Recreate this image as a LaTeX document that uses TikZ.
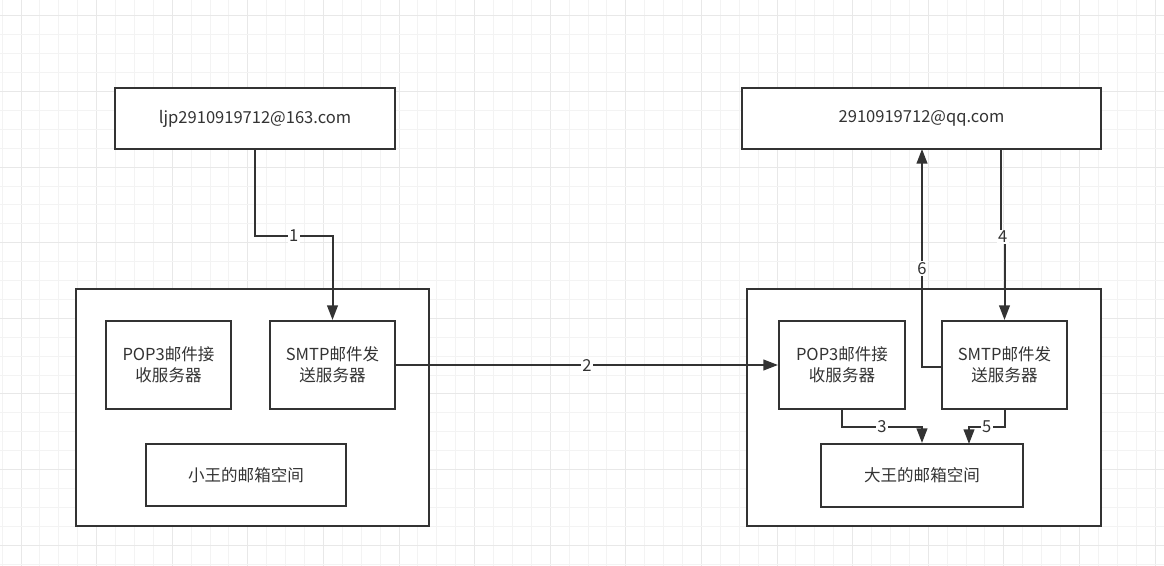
\documentclass[tikz,border=0pt]{standalone}
\usepackage{fontspec}
\setmainfont{Noto Sans CJK SC}
\usetikzlibrary{arrows.meta}
\definecolor{ln}{HTML}{333333}
\definecolor{gmin}{HTML}{F3F3F3}
\definecolor{gmaj}{HTML}{E8E8E8}
\begin{document}
\begin{tikzpicture}[x=0.75pt,y=-0.75pt,
  box/.style={draw=ln, line width=1.5pt, fill=white, align=center, text=ln,
    font=\fontsize{12.4}{16}\selectfont, inner sep=0pt},
  conn/.style={draw=ln, line width=1.5pt},
  arr/.style={conn, -{Triangle[length=11pt,width=8pt]}},
  lbl/.style={fill=white, text=ln, font=\fontsize{12.4}{14}\selectfont, inner sep=1pt}]
\useasboundingbox (0,0) rectangle (1164,566);
\fill[white] (0,0) rectangle (1164,566);
% grid
\foreach \i in {0,...,61}{
  \pgfmathtruncatemacro{\m}{mod(\i,4)}
  \ifnum\m=1 \draw[gmaj,line width=0.75pt] (2.1+18.9*\i,0) -- (2.1+18.9*\i,566);
  \else \draw[gmin,line width=0.75pt] (2.1+18.9*\i,0) -- (2.1+18.9*\i,566); \fi}
\foreach \j in {1,...,31}{
  \pgfmathtruncatemacro{\m}{mod(\j,4)}
  \ifnum\m=1 \draw[gmaj,line width=0.75pt] (0,-2.9+18.9*\j) -- (1164,-2.9+18.9*\j);
  \else \draw[gmin,line width=0.75pt] (0,-2.9+18.9*\j) -- (1164,-2.9+18.9*\j); \fi}
% containers
\node[box, minimum width=264.75pt, minimum height=177.75pt] (lc) at (252.5,407.5) {};
\node[box, minimum width=265.5pt, minimum height=177.75pt] (rc) at (924,407.5) {};
% top boxes
\node[box, minimum width=210pt, minimum height=45.75pt] (tl) at (255,118.5) {ljp2910919712@163.com};
\node[box, minimum width=269.25pt, minimum height=45.75pt] (tr) at (921.5,118.5) {2910919712@qq.com};
% servers
\node[box, minimum width=93.75pt, minimum height=66pt] (lp) at (168.5,365) {POP3邮件接\\收服务器};
\node[box, minimum width=93.75pt, minimum height=66pt] (ls) at (332.5,365) {SMTP邮件发\\送服务器};
\node[box, minimum width=150pt, minimum height=46.5pt] (lm) at (246,475) {小王的邮箱空间};
\node[box, minimum width=94.5pt, minimum height=66pt] (rp) at (842,365) {POP3邮件接\\收服务器};
\node[box, minimum width=93.75pt, minimum height=66pt] (rs) at (1004.5,365) {SMTP邮件发\\送服务器};
\node[box, minimum width=151.5pt, minimum height=47.25pt] (rm) at (922,475.5) {大王的邮箱空间};
% connectors
\coordinate (c1) at (255,236);
\draw[arr] (tl.south) -- (c1) -| node[pos=0.25,lbl]{1} (ls.north);
\draw[arr] (ls.east) -- node[lbl]{2} (rp.west);
\coordinate (c3) at (842,427);
\draw[arr] (rp.south) -- (c3) -| node[pos=0.25,lbl]{3} (rm.north);
\coordinate (c5) at (1004.5,427);
\coordinate (m5) at (969,444);
\draw[arr] (rs.south) -- (c5) -| node[pos=0.25,lbl]{5} (m5);
\coordinate (t4) at (1001,149);
\coordinate (c4) at (1001,237);
\draw[arr] (t4) -- (c4) -| node[pos=0.25,lbl]{4} (rs.north);
\coordinate (s6) at (942,367);
\coordinate (c6) at (922,367);
\coordinate (t6) at (922,149);
\draw[arr] (s6) -- (c6) -- node[pos=0.45,lbl]{6} (t6);
\end{tikzpicture}
\end{document}
